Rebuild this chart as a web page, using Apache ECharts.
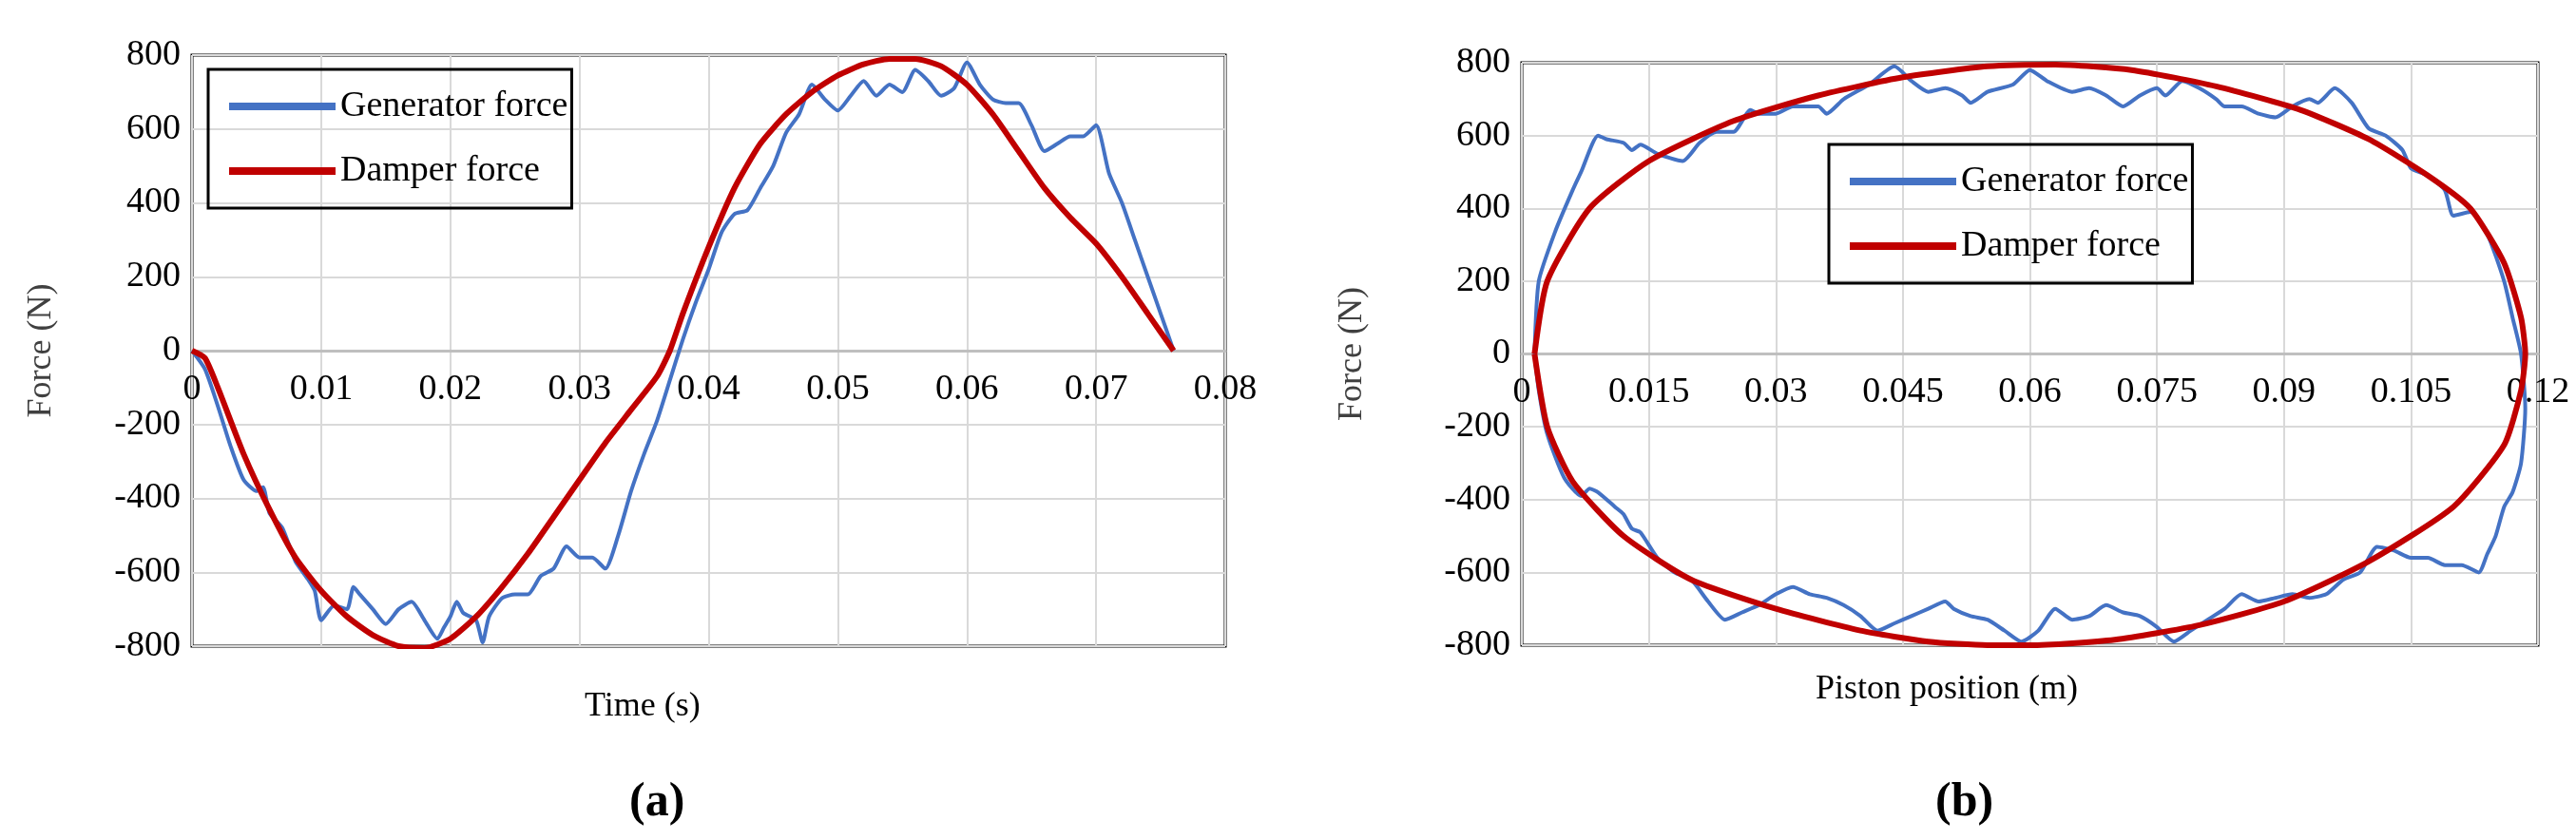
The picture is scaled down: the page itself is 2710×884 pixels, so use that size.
<!DOCTYPE html>
<html>
<head>
<meta charset="utf-8">
<script src="https://cdn.jsdelivr.net/npm/echarts@6/dist/echarts.min.js"></script>
<style>html,body{margin:0;padding:0;background:#fff}#main{width:2710px;height:884px}</style>
</head>
<body>
<div id="main"></div>
<script>
// (a) force vs time, [t, F]
var genTime = [[0,0],[0.001,-50],[0.002,-150],[0.003,-260],[0.004,-350],[0.005,-380],[0.0055,-370],[0.006,-440],[0.007,-480],[0.008,-570],[0.009,-620],[0.0095,-650],[0.010,-730],[0.011,-690],[0.012,-700],[0.0125,-640],[0.013,-660],[0.014,-700],[0.015,-740],[0.016,-700],[0.017,-680],[0.018,-730],[0.019,-780],[0.0195,-750],[0.020,-720],[0.0205,-680],[0.021,-710],[0.022,-730],[0.0225,-790],[0.023,-720],[0.024,-670],[0.025,-660],[0.026,-660],[0.027,-610],[0.028,-590],[0.029,-530],[0.030,-560],[0.031,-560],[0.032,-590],[0.033,-500],[0.034,-380],[0.035,-280],[0.036,-190],[0.037,-80],[0.038,30],[0.039,130],[0.040,220],[0.041,320],[0.042,370],[0.043,380],[0.044,440],[0.045,500],[0.046,590],[0.047,640],[0.048,720],[0.049,680],[0.050,650],[0.051,690],[0.052,730],[0.053,690],[0.054,720],[0.055,700],[0.056,760],[0.057,730],[0.058,690],[0.059,710],[0.060,780],[0.061,720],[0.062,680],[0.063,670],[0.064,670],[0.065,610],[0.066,540],[0.067,560],[0.068,580],[0.069,580],[0.070,610],[0.071,480],[0.072,400],[0.073,300],[0.074,200],[0.075,100],[0.076,0]];
var damperTime = [[0,0],[0.001,-20],[0.002,-100],[0.004,-280],[0.006,-430],[0.008,-560],[0.010,-650],[0.012,-720],[0.014,-770],[0.016,-800],[0.018,-805],[0.020,-780],[0.022,-720],[0.024,-640],[0.026,-550],[0.028,-450],[0.030,-350],[0.032,-250],[0.034,-160],[0.036,-70],[0.037,0],[0.038,100],[0.040,280],[0.042,440],[0.044,560],[0.046,640],[0.048,700],[0.050,745],[0.052,775],[0.054,790],[0.056,790],[0.058,770],[0.060,720],[0.062,640],[0.064,540],[0.066,440],[0.068,360],[0.070,290],[0.072,200],[0.074,100],[0.076,0]];

// (b) force vs piston position, [x, F]
var genPos = [[0.0015,0],[0.002,200],[0.004,340],[0.006,450],[0.007,500],[0.009,600],[0.010,590],[0.012,580],[0.013,560],[0.014,575],[0.016,550],[0.019,530],[0.021,580],[0.023,610],[0.025,610],[0.027,670],[0.028,660],[0.030,660],[0.032,680],[0.035,680],[0.036,660],[0.038,700],[0.041,740],[0.044,790],[0.046,750],[0.048,720],[0.050,730],[0.052,710],[0.053,690],[0.055,720],[0.058,740],[0.060,780],[0.062,750],[0.065,720],[0.067,730],[0.069,710],[0.071,680],[0.073,710],[0.075,730],[0.076,710],[0.078,750],[0.080,730],[0.082,700],[0.083,680],[0.085,680],[0.087,660],[0.089,650],[0.091,680],[0.093,700],[0.094,690],[0.096,730],[0.098,690],[0.100,620],[0.102,600],[0.104,560],[0.105,510],[0.107,490],[0.109,450],[0.110,380],[0.112,390],[0.114,330],[0.116,200],[0.117,100],[0.118,0],[0.1185,-150],[0.118,-300],[0.117,-380],[0.116,-420],[0.115,-500],[0.114,-550],[0.113,-600],[0.111,-580],[0.109,-580],[0.107,-560],[0.105,-560],[0.103,-540],[0.101,-530],[0.099,-600],[0.097,-620],[0.095,-660],[0.093,-670],[0.091,-660],[0.089,-670],[0.087,-680],[0.085,-660],[0.083,-700],[0.081,-730],[0.079,-760],[0.077,-790],[0.075,-750],[0.073,-720],[0.071,-710],[0.069,-690],[0.067,-720],[0.065,-730],[0.063,-700],[0.061,-760],[0.059,-790],[0.057,-760],[0.055,-730],[0.053,-720],[0.051,-700],[0.050,-680],[0.048,-700],[0.046,-720],[0.044,-740],[0.042,-760],[0.040,-720],[0.038,-690],[0.036,-670],[0.034,-660],[0.032,-640],[0.030,-660],[0.028,-690],[0.026,-710],[0.024,-730],[0.022,-680],[0.020,-620],[0.018,-600],[0.016,-560],[0.014,-490],[0.013,-480],[0.012,-440],[0.011,-420],[0.009,-380],[0.008,-370],[0.007,-390],[0.005,-340],[0.003,-220],[0.002,-100],[0.0015,0]];
var damperPos = [[0.0015,0],[0.003,200],[0.008,400],[0.015,530],[0.025,640],[0.035,710],[0.045,760],[0.055,790],[0.063,795],[0.072,780],[0.082,735],[0.092,670],[0.100,590],[0.107,490],[0.112,400],[0.116,250],[0.118,100],[0.1185,0],[0.118,-100],[0.116,-250],[0.110,-420],[0.100,-570],[0.090,-680],[0.080,-745],[0.070,-785],[0.060,-800],[0.055,-800],[0.048,-790],[0.040,-760],[0.030,-700],[0.020,-620],[0.012,-500],[0.006,-350],[0.003,-200],[0.0015,0]];

var yTicks = {min: -800, max: 800, interval: 200};
var blue = '#4472C4', red = '#C00000';
var font = 'Liberation Serif';

var chart = echarts.init(document.getElementById('main'));

// x axis drawn through y = 0 (middle of the grid), as in the source figure
function xAxisOf(idx, max, interval, halfHeight){
    return {
        type: 'value', gridIndex: idx, min: 0, max: max, interval: interval,
        position: 'bottom', offset: -halfHeight,
        axisLine: {onZero: false, lineStyle: {color: '#bfbfbf', width: 3}},
        axisTick: {show: false},
        axisLabel: {fontFamily: font, fontSize: 38, color: '#000', margin: 22, showMaxLabel: true, showMinLabel: true},
        splitLine: {show: true, lineStyle: {color: '#d9d9d9', width: 2}}
    };
}
function yAxisOf(idx, gap){
    return {
        type: 'value', gridIndex: idx, min: yTicks.min, max: yTicks.max, interval: yTicks.interval,
        name: 'Force (N)', nameLocation: 'middle', nameGap: gap,
        nameTextStyle: {fontFamily: font, fontSize: 36, color: '#404040'},
        axisLine: {show: false}, axisTick: {show: false},
        axisLabel: {fontFamily: font, fontSize: 38, color: '#000', margin: 12},
        splitLine: {show: true, lineStyle: {color: '#d9d9d9', width: 2}}
    };
}
function legendOf(left, top){
    return {
        left: left, top: top, orient: 'vertical',
        borderColor: '#000', borderWidth: 3, padding: [20, 4, 20, 22], itemGap: 30,
        itemWidth: 112, itemHeight: 8,
        textStyle: {fontFamily: font, fontSize: 38, color: '#000'},
        data: [{name: 'Generator force', icon: 'rect'}, {name: 'Damper force', icon: 'rect'}]
    };
}
function lineOf(name, data, idx, color, width){
    return {
        name: name, type: 'line', xAxisIndex: idx, yAxisIndex: idx, data: data,
        showSymbol: false, smooth: 0.2, itemStyle: {color: color},
        lineStyle: {color: color, width: width}
    };
}

chart.setOption({
    animation: false,
    grid: [
        {left: 202, right: 1421, top: 58, bottom: 204, show: true, borderColor: '#000', borderWidth: 3},
        {left: 1601, right: 40, top: 66, bottom: 205, show: true, borderColor: '#000', borderWidth: 3}
    ],
    xAxis: [xAxisOf(0, 0.08, 0.01, 311), xAxisOf(1, 0.12, 0.015, 306.5)],
    yAxis: [yAxisOf(0, 140), yAxisOf(1, 160)],
    legend: [legendOf(219, 73), legendOf(1924, 152)],
    series: [
        lineOf('Generator force', genTime, 0, blue, 4),
        lineOf('Damper force', damperTime, 0, red, 6),
        lineOf('Generator force', genPos, 1, blue, 4),
        lineOf('Damper force', damperPos, 1, red, 6)
    ],
    graphic: [
        {type: 'text', left: 'center', top: 726, x: 0, style: {text: 'Time (s)', fontFamily: font, fontSize: 36, fill: '#000'}, left: 615},
        {type: 'text', left: 1910, top: 708, style: {text: 'Piston position (m)', fontFamily: font, fontSize: 36, fill: '#000'}},
        {type: 'text', left: 662, top: 820, style: {text: '(a)', fontFamily: font, fontSize: 50, fontWeight: 'bold', fill: '#000'}},
        {type: 'text', left: 2036, top: 820, style: {text: '(b)', fontFamily: font, fontSize: 50, fontWeight: 'bold', fill: '#000'}}
    ]
});
</script>
</body>
</html>
